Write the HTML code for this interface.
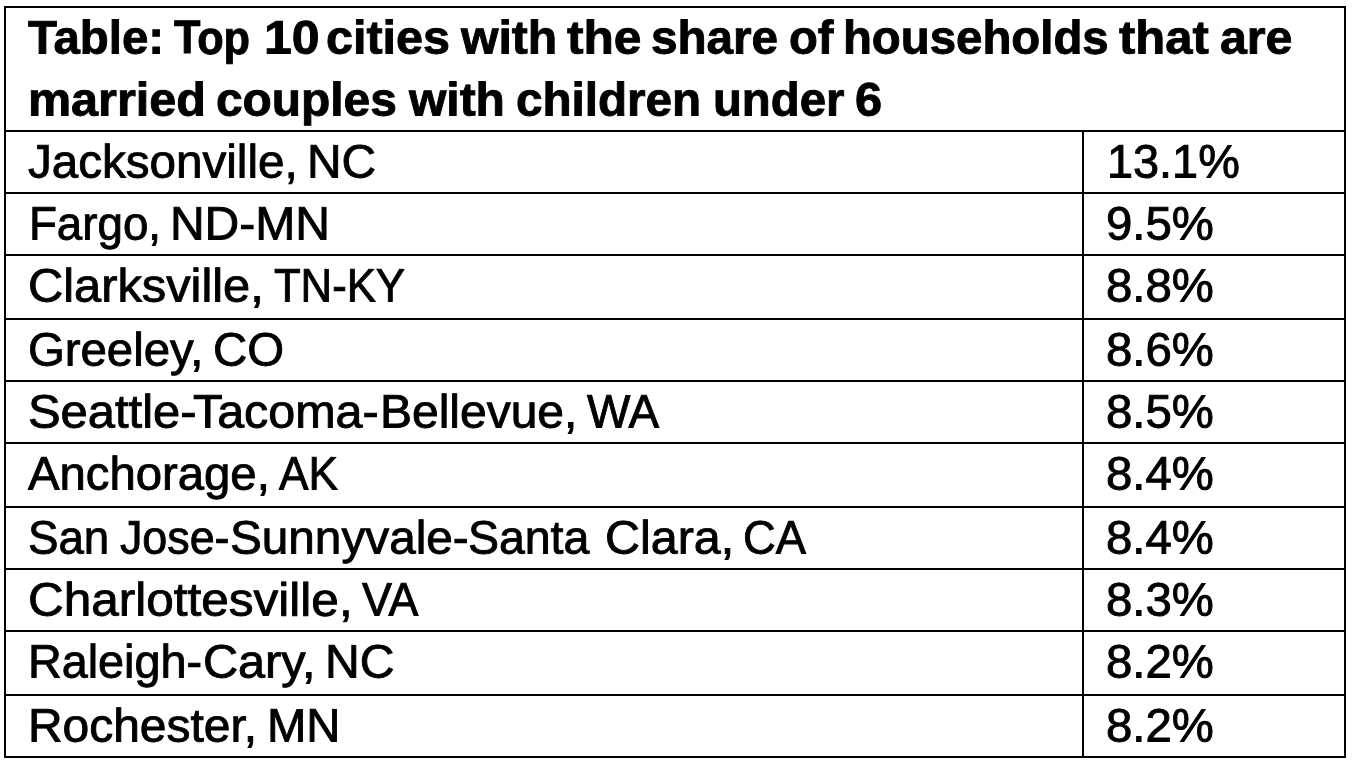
<!DOCTYPE html>
<html lang="en"><head><meta charset="utf-8"><title>Table</title>
<style>
html,body{margin:0;padding:0;background:#fff;width:1352px;height:768px;overflow:hidden;}
body{width:1352px;height:768px;position:relative;overflow:hidden;font-family:"Liberation Sans",sans-serif;color:#000;}
.h{position:absolute;left:4px;width:1342px;height:2px;background:#000;}
.v{position:absolute;width:2px;background:#000;}
#txt{position:absolute;left:0;top:0;width:1352px;height:768px;overflow:hidden;will-change:transform;}
.t{position:absolute;white-space:nowrap;transform-origin:0 0;line-height:200px;height:200px;display:block;}
.r{font-size:46.8px;-webkit-text-stroke:0.9px #000;}
.b{font-size:47px;font-weight:bold;-webkit-text-stroke:0.9px #000;}

</style></head><body>
<div class="h" style="top:6px"></div>
<div class="h" style="top:130px"></div>
<div class="h" style="top:192px"></div>
<div class="h" style="top:254px"></div>
<div class="h" style="top:318px"></div>
<div class="h" style="top:380px"></div>
<div class="h" style="top:442px"></div>
<div class="h" style="top:506px"></div>
<div class="h" style="top:568px"></div>
<div class="h" style="top:630px"></div>
<div class="h" style="top:694px"></div>
<div class="h" style="top:756px"></div>
<div class="v" style="left:4px;top:6px;height:752px"></div>
<div class="v" style="left:1344px;top:6px;height:752px"></div>
<div class="v" style="left:1082px;top:130px;height:628px"></div>
<div id="txt">
<div class="hd">
<span class="t b" style="left:27.94px;top:-63px;transform:translateY(0.50px) rotate(0.03deg) scaleX(1.0090)">Table:</span>
<span class="t b" style="left:174.19px;top:-63px;transform:translateY(0.50px) rotate(0.03deg) scaleX(0.9212)">Top</span>
<span class="t b" style="left:263.61px;top:-63px;transform:translateY(0.50px) rotate(0.03deg) scaleX(1.0625)">10</span>
<span class="t b" style="left:325.57px;top:-63px;transform:translateY(0.50px) rotate(0.03deg) scaleX(1.0316)">cities</span>
<span class="t b" style="left:460.50px;top:-63px;transform:translateY(0.50px) rotate(0.03deg) scaleX(1.0243)">with</span>
<span class="t b" style="left:567.40px;top:-63px;transform:translateY(0.50px) rotate(0.03deg) scaleX(1.0562)">the</span>
<span class="t b" style="left:651.03px;top:-63px;transform:translateY(0.50px) rotate(0.03deg) scaleX(1.0141)">share</span>
<span class="t b" style="left:788.62px;top:-63px;transform:translateY(0.50px) rotate(0.03deg) scaleX(1.0037)">of</span>
<span class="t b" style="left:843.41px;top:-63px;transform:translateY(0.50px) rotate(0.03deg) scaleX(1.0075)">households</span>
<span class="t b" style="left:1119.15px;top:-63px;transform:translateY(0.50px) rotate(0.03deg) scaleX(1.0424)">that</span>
<span class="t b" style="left:1220.16px;top:-63px;transform:translateY(0.50px) rotate(0.03deg) scaleX(1.0272)">are</span>
</div>
<div class="hd">
<span class="t b" style="left:27.72px;top:-1px;transform:translateY(0.50px) rotate(0.03deg) scaleX(1.0321)">married</span>
<span class="t b" style="left:216.09px;top:-1px;transform:translateY(0.50px) rotate(0.03deg) scaleX(1.0186)">couples</span>
<span class="t b" style="left:408.50px;top:-1px;transform:translateY(0.50px) rotate(0.03deg) scaleX(1.0216)">with</span>
<span class="t b" style="left:515.60px;top:-1px;transform:translateY(0.50px) rotate(0.03deg) scaleX(1.0133)">children</span>
<span class="t b" style="left:712.52px;top:-1px;transform:translateY(0.50px) rotate(0.03deg) scaleX(1.0072)">under</span>
<span class="t b" style="left:854.97px;top:-1px;transform:translateY(0.50px) rotate(0.03deg) scaleX(1.0354)">6</span>
</div>
<div class="row">
<span class="t r" style="left:27.87px;top:61px;transform:translateY(0.50px) rotate(0.03deg) scaleX(1.0166)">Jacksonville,</span>
<span class="t r" style="left:307.38px;top:61px;transform:translateY(0.50px) rotate(0.03deg) scaleX(1.0229)">NC</span>
<span class="t r" style="left:1106.63px;top:61px;transform:translateY(0.50px) rotate(0.03deg) scaleX(1.0017)">13.1%</span>
</div>
<div class="row">
<span class="t r" style="left:28.54px;top:123px;transform:translateY(0.50px) rotate(0.03deg) scaleX(0.9769)">Fargo,</span>
<span class="t r" style="left:169.57px;top:123px;transform:translateY(0.50px) rotate(0.03deg) scaleX(1.0260)">ND-MN</span>
<span class="t r" style="left:1105.59px;top:123px;transform:translateY(0.50px) rotate(0.03deg) scaleX(1.0120)">9.5%</span>
</div>
<div class="row">
<span class="t r" style="left:28.26px;top:185px;transform:translateY(0.50px) rotate(0.03deg) scaleX(1.0424)">Clarksville,</span>
<span class="t r" style="left:273.82px;top:185px;transform:translateY(0.50px) rotate(0.03deg) scaleX(0.9333)">TN-KY</span>
<span class="t r" style="left:1105.74px;top:185px;transform:translateY(0.50px) rotate(0.03deg) scaleX(1.0105)">8.8%</span>
</div>
<div class="row">
<span class="t r" style="left:28.43px;top:249px;transform:translateY(0.50px) rotate(0.03deg) scaleX(1.0116)">Greeley,</span>
<span class="t r" style="left:212.62px;top:249px;transform:translateY(0.50px) rotate(0.03deg) scaleX(1.0125)">CO</span>
<span class="t r" style="left:1105.74px;top:249px;transform:translateY(0.50px) rotate(0.03deg) scaleX(1.0105)">8.6%</span>
</div>
<div class="row">
<span class="t r" style="left:27.79px;top:311px;transform:translateY(0.50px) rotate(0.03deg) scaleX(1.0453)">Seattle-</span><span class="t r" style="left:193.36px;top:311px;transform:translateY(0.50px) rotate(0.03deg) scaleX(1.0347)">Tacoma-</span><span class="t r" style="left:379.87px;top:311px;transform:translateY(0.50px) rotate(0.03deg) scaleX(1.0255)">Bellevue,</span>
<span class="t r" style="left:586.68px;top:311px;transform:translateY(0.50px) rotate(0.03deg) scaleX(0.9815)">WA</span>
<span class="t r" style="left:1105.74px;top:311px;transform:translateY(0.50px) rotate(0.03deg) scaleX(1.0105)">8.5%</span>
</div>
<div class="row">
<span class="t r" style="left:28.24px;top:373px;transform:translateY(0.50px) rotate(0.03deg) scaleX(1.0104)">Anchorage,</span>
<span class="t r" style="left:279.13px;top:373px;transform:translateY(0.50px) rotate(0.03deg) scaleX(0.9444)">AK</span>
<span class="t r" style="left:1105.74px;top:373px;transform:translateY(0.50px) rotate(0.03deg) scaleX(1.0105)">8.4%</span>
</div>
<div class="row">
<span class="t r" style="left:27.91px;top:437px;transform:translateY(0.50px) rotate(0.03deg) scaleX(0.9769)">San</span>
<span class="t r" style="left:120.19px;top:437px;transform:translateY(0.50px) rotate(0.03deg) scaleX(0.9578)">Jose-</span><span class="t r" style="left:229.54px;top:437px;transform:translateY(0.50px) rotate(0.03deg) scaleX(1.0199)">Sunnyvale-</span><span class="t r" style="left:468.28px;top:437px;transform:translateY(0.50px) rotate(0.03deg) scaleX(0.9929)">Santa</span>
<span class="t r" style="left:605.18px;top:437px;transform:translateY(0.50px) rotate(0.03deg) scaleX(1.0352)">Clara,</span>
<span class="t r" style="left:743.21px;top:437px;transform:translateY(0.50px) rotate(0.03deg) scaleX(0.9689)">CA</span>
<span class="t r" style="left:1105.74px;top:437px;transform:translateY(0.50px) rotate(0.03deg) scaleX(1.0105)">8.4%</span>
</div>
<div class="row">
<span class="t r" style="left:28.13px;top:499px;transform:translateY(0.50px) rotate(0.03deg) scaleX(1.0581)">Charlottesville,</span>
<span class="t r" style="left:361.90px;top:499px;transform:translateY(0.50px) rotate(0.03deg) scaleX(0.9575)">VA</span>
<span class="t r" style="left:1105.74px;top:499px;transform:translateY(0.50px) rotate(0.03deg) scaleX(1.0105)">8.3%</span>
</div>
<div class="row">
<span class="t r" style="left:28.46px;top:561px;transform:translateY(0.50px) rotate(0.03deg) scaleX(0.9987)">Raleigh-</span><span class="t r" style="left:202.77px;top:561px;transform:translateY(0.50px) rotate(0.03deg) scaleX(1.0395)">Cary,</span>
<span class="t r" style="left:324.87px;top:561px;transform:translateY(0.50px) rotate(0.03deg) scaleX(1.0276)">NC</span>
<span class="t r" style="left:1105.74px;top:561px;transform:translateY(0.50px) rotate(0.03deg) scaleX(1.0105)">8.2%</span>
</div>
<div class="row">
<span class="t r" style="left:28.38px;top:625px;transform:translateY(0.50px) rotate(0.03deg) scaleX(1.0243)">Rochester,</span>
<span class="t r" style="left:267.43px;top:625px;transform:translateY(0.50px) rotate(0.03deg) scaleX(1.0088)">MN</span>
<span class="t r" style="left:1105.74px;top:625px;transform:translateY(0.50px) rotate(0.03deg) scaleX(1.0105)">8.2%</span>
</div>
</div>
</body></html>
